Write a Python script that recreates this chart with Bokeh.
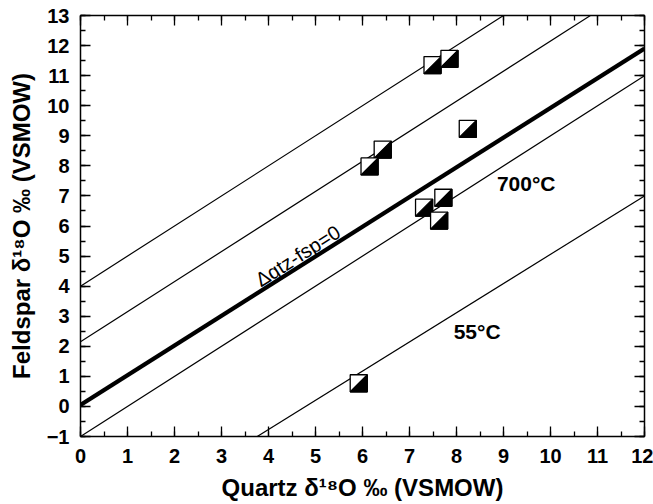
from bokeh.plotting import figure
from bokeh.models import Range1d, LinearAxis, SingleIntervalTicker, Label, CustomJSTickFormatter
from bokeh.embed import file_html
from bokeh.resources import INLINE

# data: quartz vs feldspar delta18O
quartz = [7.49, 7.85, 8.24, 6.43, 6.15, 7.72, 7.31, 7.63, 5.92]
feldspar = [11.35, 11.56, 9.23, 8.54, 7.98, 6.94, 6.61, 6.18, 0.77]

# reference lines (end points)
line_x = [[0, 9], [0, 10.85], [0, 12], [0, 12], [3.76, 12]]
line_y = [[4.0, 13], [2.15, 13], [0.05, 11.9], [-1, 11], [-1, 7.0]]
line_w = [1.2, 1.2, 4.2, 1.2, 1.2]

x_title = "Quartz δ¹⁸O ‰ (VSMOW)"
y_title = "Feldspar δ¹⁸O ‰ (VSMOW)"

FONT = "Liberation Sans"

FRAME_W = 562
FRAME_H = 421

p = figure(width=653, height=504, output_backend="svg", toolbar_location=None,
           x_range=Range1d(0, 12), y_range=Range1d(-1, 13),
           min_border_left=80, min_border_right=9, min_border_top=15, min_border_bottom=68)
p.xgrid.visible = False
p.ygrid.visible = False
p.outline_line_color = None
p.background_fill_color = "white"

for xs, ys, w in zip(line_x, line_y, line_w):
    p.line(xs, ys, line_color="black", line_width=w)

# half-filled square markers (upper-left white, lower-right black)
hx = 8.5 / (FRAME_W / 12.0)
hy = 8.5 / (FRAME_H / 14.0)
pxs, pys, fills = [], [], []
for x, y in zip(quartz, feldspar):
    pxs.append([x - hx, x + hx, x + hx, x - hx])
    pys.append([y - hy, y - hy, y + hy, y + hy])
    fills.append("white")
    pxs.append([x - hx, x + hx, x + hx])
    pys.append([y - hy, y - hy, y + hy])
    fills.append("black")
p.patches(pxs, pys, fill_color=fills, line_color="black", line_width=1.3)

def style_axis(ax, show_labels):
    ax.ticker = SingleIntervalTicker(interval=1, num_minor_ticks=2)
    ax.axis_line_color = "black"
    ax.axis_line_width = 1.5
    ax.major_tick_in = 10
    ax.major_tick_out = 0
    ax.minor_tick_in = 5
    ax.minor_tick_out = 0
    ax.major_tick_line_width = 1.3
    ax.minor_tick_line_width = 1.3
    if show_labels:
        ax.major_label_text_font = FONT
        ax.major_label_text_font_style = "bold"
        ax.major_label_text_font_size = "20px"
        ax.major_label_text_color = "black"
        ax.axis_label_text_font = FONT
        ax.axis_label_text_font_style = "bold"
        ax.axis_label_text_font_size = "24px"
        ax.axis_label_text_color = "black"
    else:
        ax.formatter = CustomJSTickFormatter(code="return ''")
        ax.major_label_standoff = 0

xa = p.xaxis[0]
ya = p.yaxis[0]
style_axis(xa, True)
style_axis(ya, True)
xa.axis_label = x_title
ya.axis_label = y_title
xa.major_label_standoff = 12
xa.axis_label_standoff = 8
ya.major_label_standoff = 11
ya.axis_label_standoff = 9

top = LinearAxis()
style_axis(top, False)
p.add_layout(top, "above")
right = LinearAxis()
style_axis(right, False)
p.add_layout(right, "right")

p.add_layout(Label(x=3.76, y=4.15, text="Δqtz-fsp=0", angle=32.4, angle_units="deg",
                   text_font=FONT, text_font_size="20px", text_color="black",
                   text_baseline="alphabetic"))
p.add_layout(Label(x=8.86, y=7.40, text="700°C", text_font=FONT, text_font_style="bold",
                   text_font_size="21px", text_color="black", text_baseline="alphabetic"))
p.add_layout(Label(x=7.94, y=2.49, text="55°C", text_font=FONT, text_font_style="bold",
                   text_font_size="21px", text_color="black", text_baseline="alphabetic"))

open("out.html", "w").write(file_html(p, INLINE))
